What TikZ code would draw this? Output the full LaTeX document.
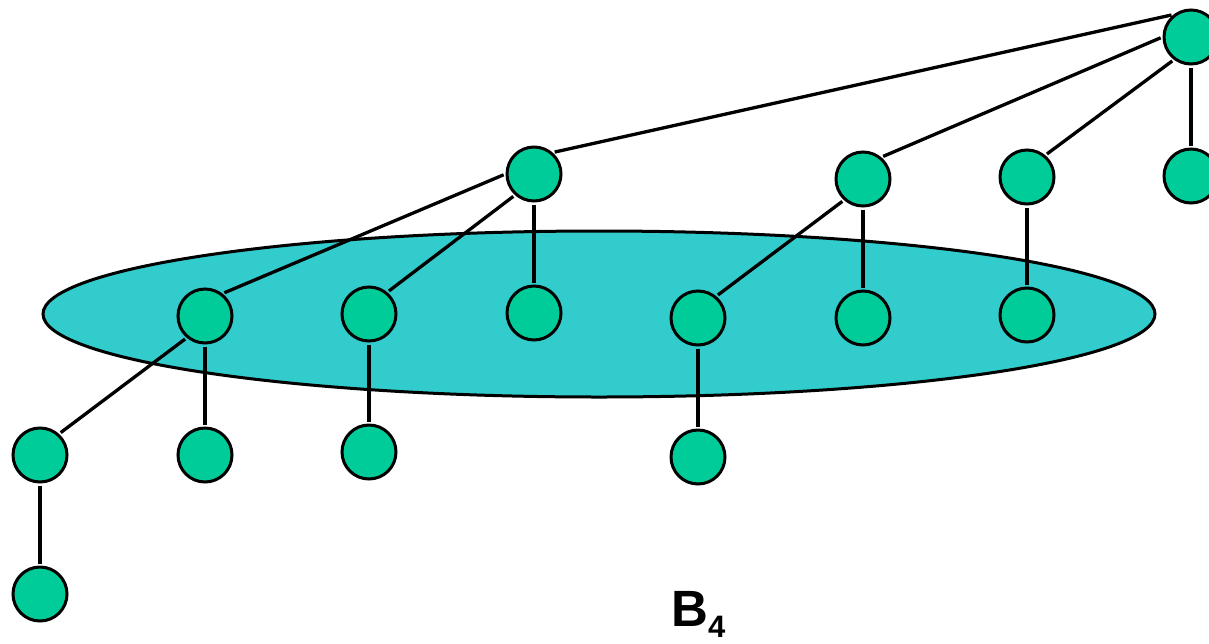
\documentclass[tikz,border=0pt]{standalone}
\usepackage{fontspec}
\setmainfont{Liberation Sans}
\usetikzlibrary{shapes.geometric}
\definecolor{nodegreen}{RGB}{0,204,153}
\definecolor{ellcyan}{RGB}{51,204,204}
\begin{document}
\begin{tikzpicture}[x=1pt,y=-1pt,
  vtx/.style={circle,draw=black,fill=nodegreen,line width=3pt,minimum size=54pt,inner sep=0pt},
  edge/.style={draw=black,line width=3.3pt,shorten >=2pt,shorten <=2pt}]
\useasboundingbox (0,0) rectangle (1209,643);
\node[ellipse,draw=black,fill=ellcyan,line width=3pt,minimum width=1112pt,minimum height=166pt,inner sep=0pt] (ell) at (599,314) {};
% nodes
\node[vtx] (r) at (1191,37) {};
\node[vtx] (a) at (534,174) {};
\node[vtx] (b) at (863,179) {};
\node[vtx] (c) at (1027,177) {};
\node[vtx] (d) at (1191,176) {};
\node[vtx] (a1) at (205,316) {};
\node[vtx] (a2) at (369,314) {};
\node[vtx] (a3) at (534,313) {};
\node[vtx] (b1) at (698,318) {};
\node[vtx] (b2) at (863,318) {};
\node[vtx] (c1) at (1027,315) {};
\node[vtx] (a1a) at (40,455) {};
\node[vtx] (a1b) at (205,455) {};
\node[vtx] (a2a) at (369,452) {};
\node[vtx] (b1a) at (698,457) {};
\node[vtx] (a1a1) at (40,594) {};
% edges
\draw[edge] (r.128) -- (a.49);
\draw[edge] (r.180) -- (b.50);
\draw[edge] (r.233) -- (c.50);
\draw[edge] (r.270) -- (d.90);
\draw[edge] (a.180) -- (a1.52);
\draw[edge] (a.228) -- (a2.50);
\draw[edge] (a.270) -- (a3.90);
\draw[edge] (b.228) -- (b1.50);
\draw[edge] (b.270) -- (b2.90);
\draw[edge] (c.270) -- (c1.90);
\draw[edge] (a1.230) -- (a1a.48);
\draw[edge] (a1.270) -- (a1b.90);
\draw[edge] (a2.270) -- (a2a.90);
\draw[edge] (b1.270) -- (b1a.90);
\draw[edge] (a1a.270) -- (a1a1.90);
% label
\node[anchor=base west,inner sep=0pt] (lbl) at (671,626) {\fontsize{51}{51}\selectfont\bfseries B\raisebox{-11pt}{\fontsize{31}{31}\selectfont 4}};
\end{tikzpicture}
\end{document}
